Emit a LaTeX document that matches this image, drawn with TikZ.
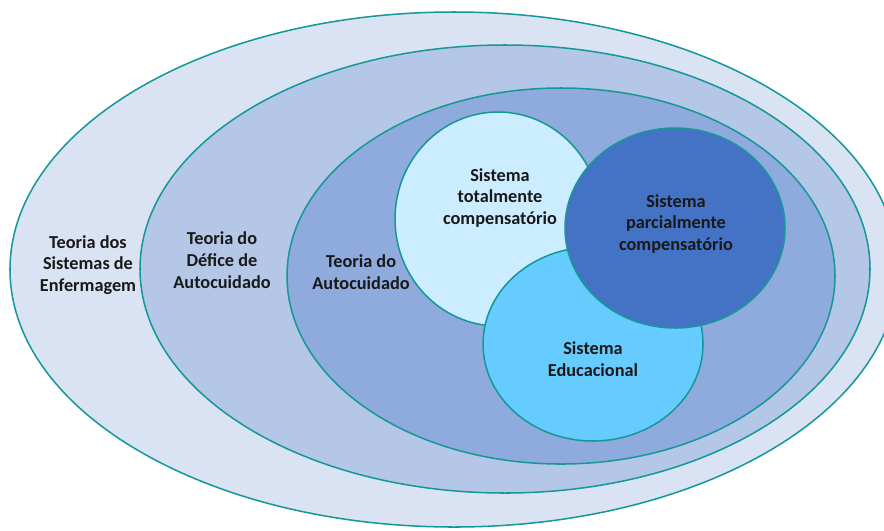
\documentclass[tikz,border=0pt]{standalone}
\usepackage{fontspec}
\setmainfont{Carlito}
\usepackage{tikz}
\usetikzlibrary{positioning}
\definecolor{rim}{RGB}{22,152,152}
\definecolor{pale}{HTML}{DAE3F3}
\definecolor{mid}{HTML}{B4C7E7}
\definecolor{deep}{HTML}{8FAADC}
\definecolor{sky}{HTML}{CCECFF}
\definecolor{royal}{HTML}{4472C4}
\definecolor{cyan2}{HTML}{66CCFF}
\tikzset{ring/.style={draw=rim, line width=1.3pt},
	label/.style={align=center, font=\bfseries\fontsize{15.6}{18.6}\selectfont, text=black!90}}

\begin{document}
\begin{tikzpicture}[x=0.3mm,y=-0.3mm]
	\useasboundingbox (0,0) rectangle (884,530);
	\clip (0,0) rectangle (884,530);
	\draw[ring, fill=pale] (454,269.5) ellipse (133.2mm and 77.25mm);
	\draw[ring, fill=mid] (505,269) ellipse (109.5mm and 67.2mm);
	\draw[ring, fill=deep] (561,276) ellipse (82.2mm and 56.4mm);
	\draw[ring, fill=sky] (498,219) ellipse (30.9mm and 32.1mm);
	\draw[ring, fill=cyan2] (593,344) ellipse (33mm and 29.1mm);
	\draw[ring, fill=royal] (675,228) ellipse (33mm and 30mm);
	\node[label] (sistemas) at (88,265) {Teoria dos\\Sistemas de\\Enfermagem};
	\node[label] (deficit) at (222,260) {Teoria do\\Défice de\\Autocuidado};
	\node[label] (autocuidado) at (361,272) {Teoria do\\Autocuidado};
	\node[label] (total) at (500,198) {Sistema\\totalmente\\compensatório};
	\node[label] (parcial) at (676,224) {Sistema\\parcialmente\\compensatório};
	\node[label] (educ) at (593,359) {Sistema\\Educacional};
\end{tikzpicture}
\end{document}
